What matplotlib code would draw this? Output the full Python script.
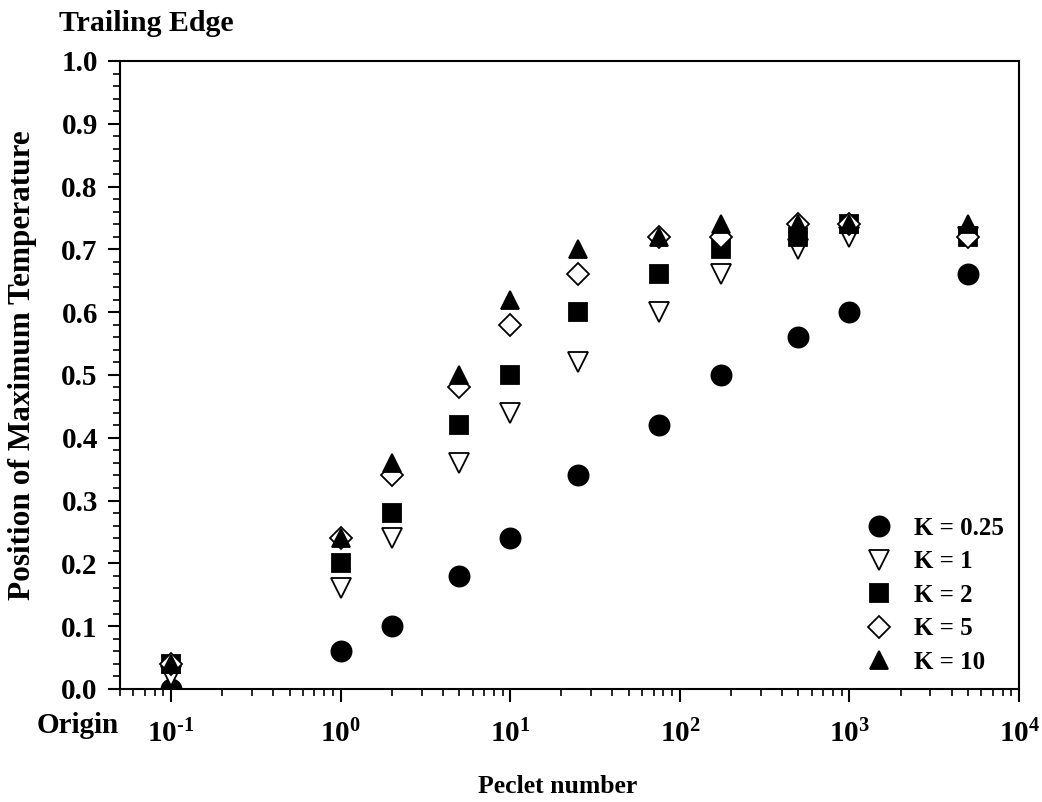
import numpy as np
import matplotlib
matplotlib.use("Agg")
import matplotlib.pyplot as plt
from matplotlib.ticker import FixedLocator, FixedFormatter, MultipleLocator

plt.rcParams['font.family'] = ['Liberation Serif', 'DejaVu Serif']
plt.rcParams['font.weight'] = 'bold'
plt.rcParams['mathtext.fontset'] = 'custom'
plt.rcParams['mathtext.rm'] = 'Liberation Serif:bold'
plt.rcParams['mathtext.bf'] = 'Liberation Serif:bold'

# data
peclet = [0.1, 1, 2, 5, 10, 25, 75, 175, 500, 1000, 5000]
k_025 = [0.00, 0.06, 0.10, 0.18, 0.24, 0.34, 0.42, 0.50, 0.56, 0.60, 0.66]
k_1 = [0.02, 0.16, 0.24, 0.36, 0.44, 0.52, 0.60, 0.66, 0.70, 0.72, 0.72]
k_2 = [0.04, 0.20, 0.28, 0.42, 0.50, 0.60, 0.66, 0.70, 0.72, 0.74, 0.72]
k_5 = [0.04, 0.24, 0.34, 0.48, 0.58, 0.66, 0.72, 0.72, 0.74, 0.74, 0.72]
k_10 = [0.04, 0.24, 0.36, 0.50, 0.62, 0.70, 0.72, 0.74, 0.74, 0.74, 0.74]
labels = ['K = 0.25', 'K = 1', 'K = 2', 'K = 5', 'K = 10']

xticks = [0.1, 1, 10, 100, 1000, 10000]
xticklabels = [r'$\mathbf{10^{‐1}}$', r'$\mathbf{10^{0}}$', r'$\mathbf{10^{1}}$',
               r'$\mathbf{10^{2}}$', r'$\mathbf{10^{3}}$', r'$\mathbf{10^{4}}$']

fig = plt.figure(figsize=(10.42, 8.02), dpi=100)
ax = fig.add_axes([0.1152, 0.141, 0.8628, 0.783])

series = [k_025, k_1, k_2, k_5, k_10]
styles = [('o', 'black', 14.5), ('v', 'white', 14), ('s', 'black', 12.5),
          ('D', 'white', 11), ('^', 'black', 13.5)]
for ys, lab, (m, fc, ms) in zip(series, labels, styles):
    ax.plot(peclet, ys, linestyle='none', marker=m, markerfacecolor=fc,
            markeredgecolor='black', markeredgewidth=1.3, markersize=ms, label=lab)

ax.set_xscale('log')
ax.set_xlim(0.05, 10000)
ax.set_ylim(0, 1.0)
ax.xaxis.set_major_locator(FixedLocator(xticks))
ax.xaxis.set_major_formatter(FixedFormatter(xticklabels))
ax.yaxis.set_major_locator(MultipleLocator(0.1))
ax.yaxis.set_minor_locator(MultipleLocator(0.02))
ax.yaxis.set_major_formatter(matplotlib.ticker.FormatStrFormatter('%.1f'))

for s in ax.spines.values():
    s.set_linewidth(1.5)
ax.tick_params(which='major', direction='out', length=9, width=1.5, labelsize=21, top=False, right=False)
ax.tick_params(which='minor', direction='out', length=5, width=1.2, top=False, right=False)
ax.tick_params(axis='x', which='major', pad=13)
ax.tick_params(axis='y', which='major', pad=7)

ax.set_ylabel('Position of Maximum Temperature', fontsize=22.5, fontweight='bold')
ax.set_xlabel('Peclet number', fontsize=18.5, fontweight='bold')
ax.xaxis.set_label_coords(0.487, -0.137)
ax.yaxis.set_label_coords(-0.092, 0.516)

fig.text(0.057, 0.987, 'Trailing Edge', fontsize=21.5, fontweight='bold', va='top', ha='left')
fig.text(0.1145, 0.096, 'Origin', fontsize=21, fontweight='bold', va='center', ha='right')

ax.legend(loc='lower right', frameon=False, fontsize=18, handletextpad=0.8,
          labelspacing=0.42, borderaxespad=0.2, handlelength=1.2)

fig.savefig('out.png', dpi=100)
